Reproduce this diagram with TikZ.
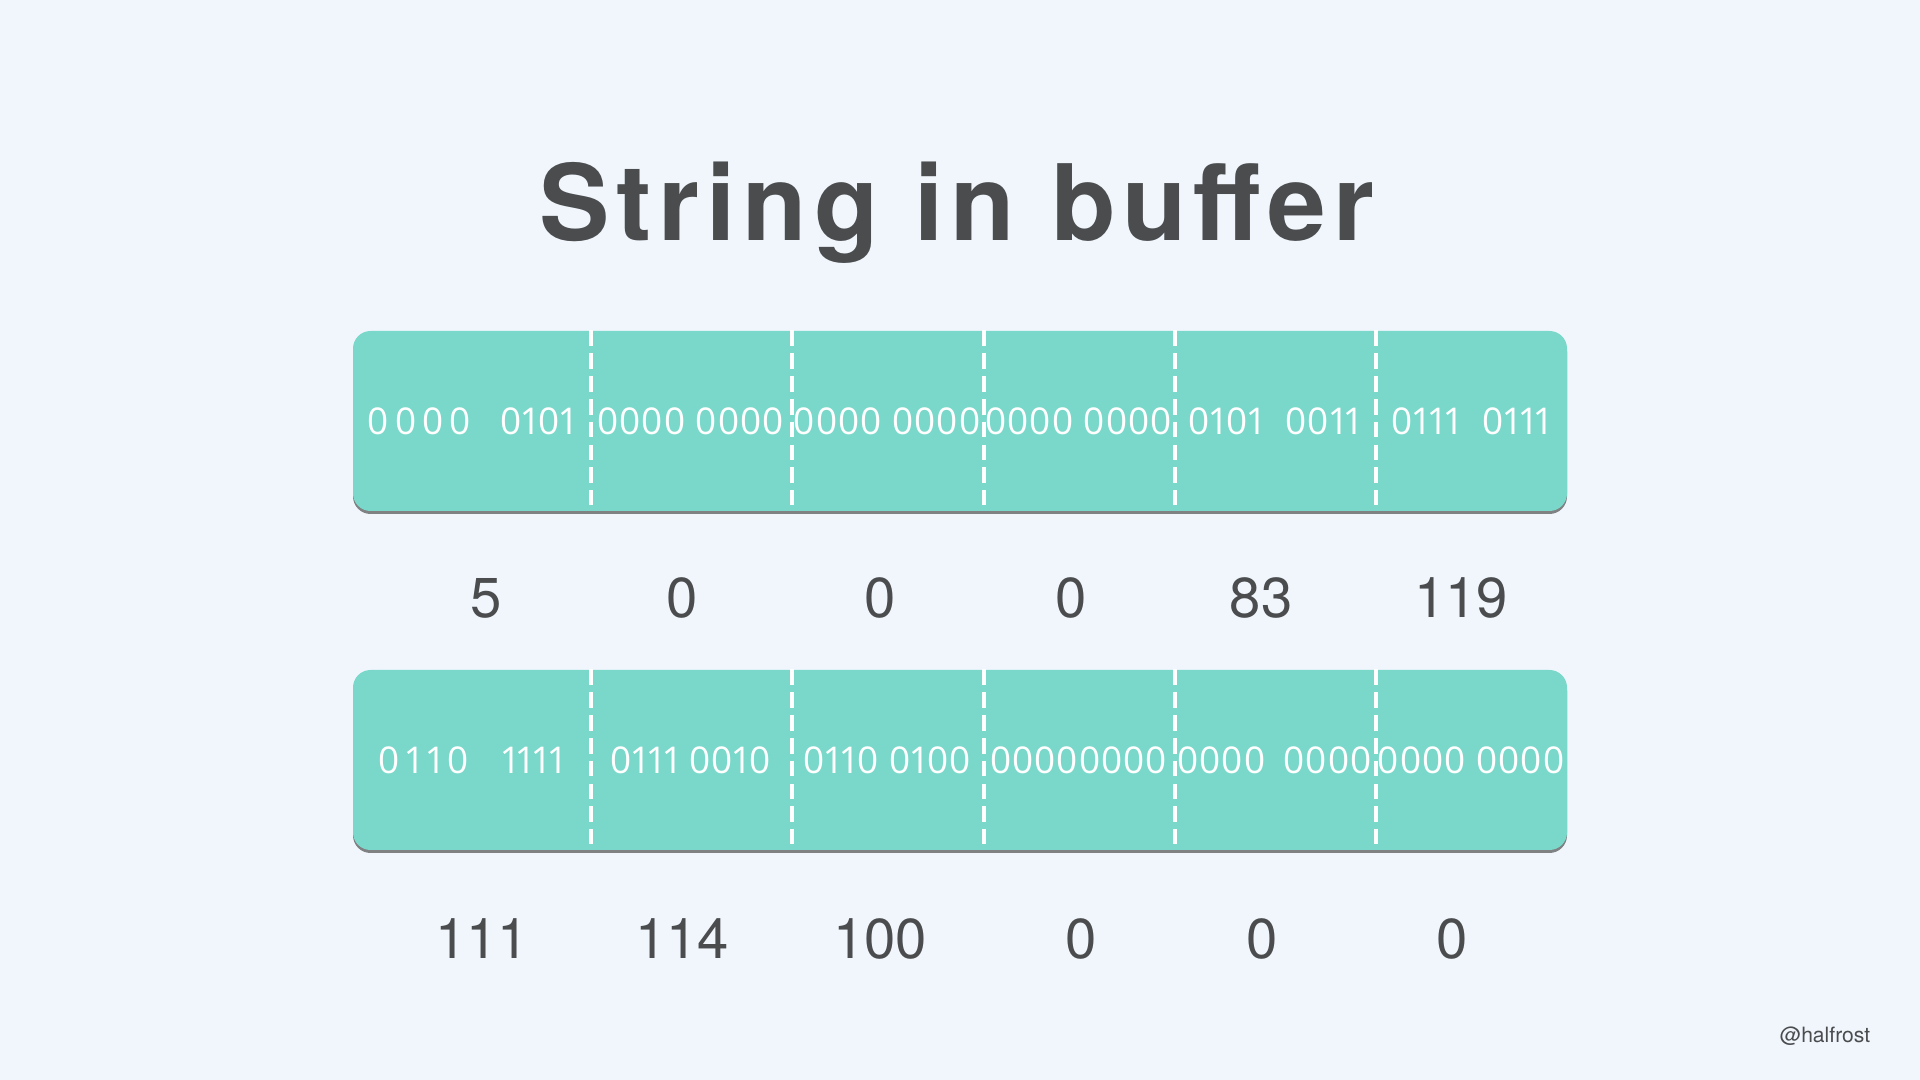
\documentclass[tikz,border=0pt]{standalone}
\usepackage{fontspec}
\setmainfont{TeX Gyre Heros}
\newfontfamily\titlefont[LetterSpace=6.5]{TeX Gyre Heros}
\newfontfamily\bitfont[Numbers=Proportional, LetterSpace=3]{Open Sans}
\usepackage{tikz}
\usetikzlibrary{positioning, shadows}
\definecolor{pagebg}{RGB}{241,246,253}
\definecolor{buffercolor}{RGB}{121,216,202}
\definecolor{labelgray}{RGB}{74,76,78}

\begin{document}
\begin{tikzpicture}[
    buffer/.style={fill=buffercolor, rounded corners=5pt, minimum width=12.14cm, minimum height=1.80cm,
        drop shadow={shadow xshift=0pt, shadow yshift=-0.03cm, fill=black!80, opacity=0.6}},
    bits/.style={inner sep=0pt, minimum height=1.80cm, text=white, font=\bitfont\fontsize{10.5}{13}\selectfont},
    divider/.style={white, line width=1.1pt, dash pattern=on 4.5pt off 2pt},
    value/.style={anchor=base, text=labelgray, font=\fontsize{16}{19}\selectfont},
    title/.style={anchor=base, text=labelgray, font=\titlefont\bfseries\fontsize{30}{36}\selectfont}
]
    % page
    \fill[pagebg] (0,0) rectangle (19.2,10.8);
    \useasboundingbox (0,0) rectangle (19.2,10.8);

    % Title
    \node[title] (title) at (9.57,8.39) {String in buffer};

    % First buffer row
    \node[buffer] (bufa) at (9.60,6.59) {};
    \node[bits, minimum width=2.37cm] (a1) at (4.715,6.59) {0\,0\,0\,0\hspace{0.8em}0101};
    \node[bits, minimum width=2.01cm] (a2) at (6.905,6.59) {0000 0000};
    \node[bits, minimum width=1.92cm] (a3) at (8.870,6.59) {0000 0000};
    \node[bits, minimum width=1.91cm] (a4) at (10.785,6.59) {0000 0000};
    \node[bits, minimum width=2.01cm] (a5) at (12.745,6.59) {0101\hspace{0.6em}0011};
    \node[bits, minimum width=1.92cm] (a6) at (14.710,6.59) {0111\hspace{0.6em}0111};

    \draw[divider] (a1.north east) -- ([yshift=0.07cm]a1.south east);
    \draw[divider] (a2.north east) -- ([yshift=0.07cm]a2.south east);
    \draw[divider] (a3.north east) -- ([yshift=0.07cm]a3.south east);
    \draw[divider] (a4.north east) -- ([yshift=0.07cm]a4.south east);
    \draw[divider] (a5.north east) -- ([yshift=0.07cm]a5.south east);

    % Decimal values of first row
    \node[value] (va1) at (4.86,4.62) {5};
    \node[value] (va2) at (6.82,4.62) {0};
    \node[value] (va3) at (8.80,4.62) {0};
    \node[value] (va4) at (10.71,4.62) {0};
    \node[value] (va5) at (12.61,4.62) {83};
    \node[value] (va6) at (14.61,4.62) {119};

    % Second buffer row
    \node[buffer] (bufb) at (9.60,3.20) {};
    \node[bits, minimum width=2.37cm] (b1) at (4.715,3.20) {0\,1\,1\,0\hspace{0.9em}1111};
    \node[bits, minimum width=2.01cm] (b2) at (6.905,3.20) {0111 0010};
    \node[bits, minimum width=1.92cm] (b3) at (8.870,3.20) {0110 0100};
    \node[bits, minimum width=1.91cm] (b4) at (10.785,3.20) {00000000};
    \node[bits, minimum width=2.01cm] (b5) at (12.745,3.20) {0000\hspace{0.5em}0000};
    \node[bits, minimum width=1.92cm] (b6) at (14.710,3.20) {0000 0000};

    \draw[divider] (b1.north east) -- ([yshift=0.07cm]b1.south east);
    \draw[divider] (b2.north east) -- ([yshift=0.07cm]b2.south east);
    \draw[divider] (b3.north east) -- ([yshift=0.07cm]b3.south east);
    \draw[divider] (b4.north east) -- ([yshift=0.07cm]b4.south east);
    \draw[divider] (b5.north east) -- ([yshift=0.07cm]b5.south east);

    % Decimal values of second row
    \node[value] (vb1) at (4.82,1.21) {111};
    \node[value] (vb2) at (6.82,1.21) {114};
    \node[value] (vb3) at (8.80,1.21) {100};
    \node[value] (vb4) at (10.81,1.21) {0};
    \node[value] (vb5) at (12.62,1.21) {0};
    \node[value] (vb6) at (14.52,1.21) {0};

    % Signature
    \node[text=labelgray, font=\fontsize{6}{7}\selectfont] (sign) at (18.25,0.44) {@halfrost};
\end{tikzpicture}
\end{document}
